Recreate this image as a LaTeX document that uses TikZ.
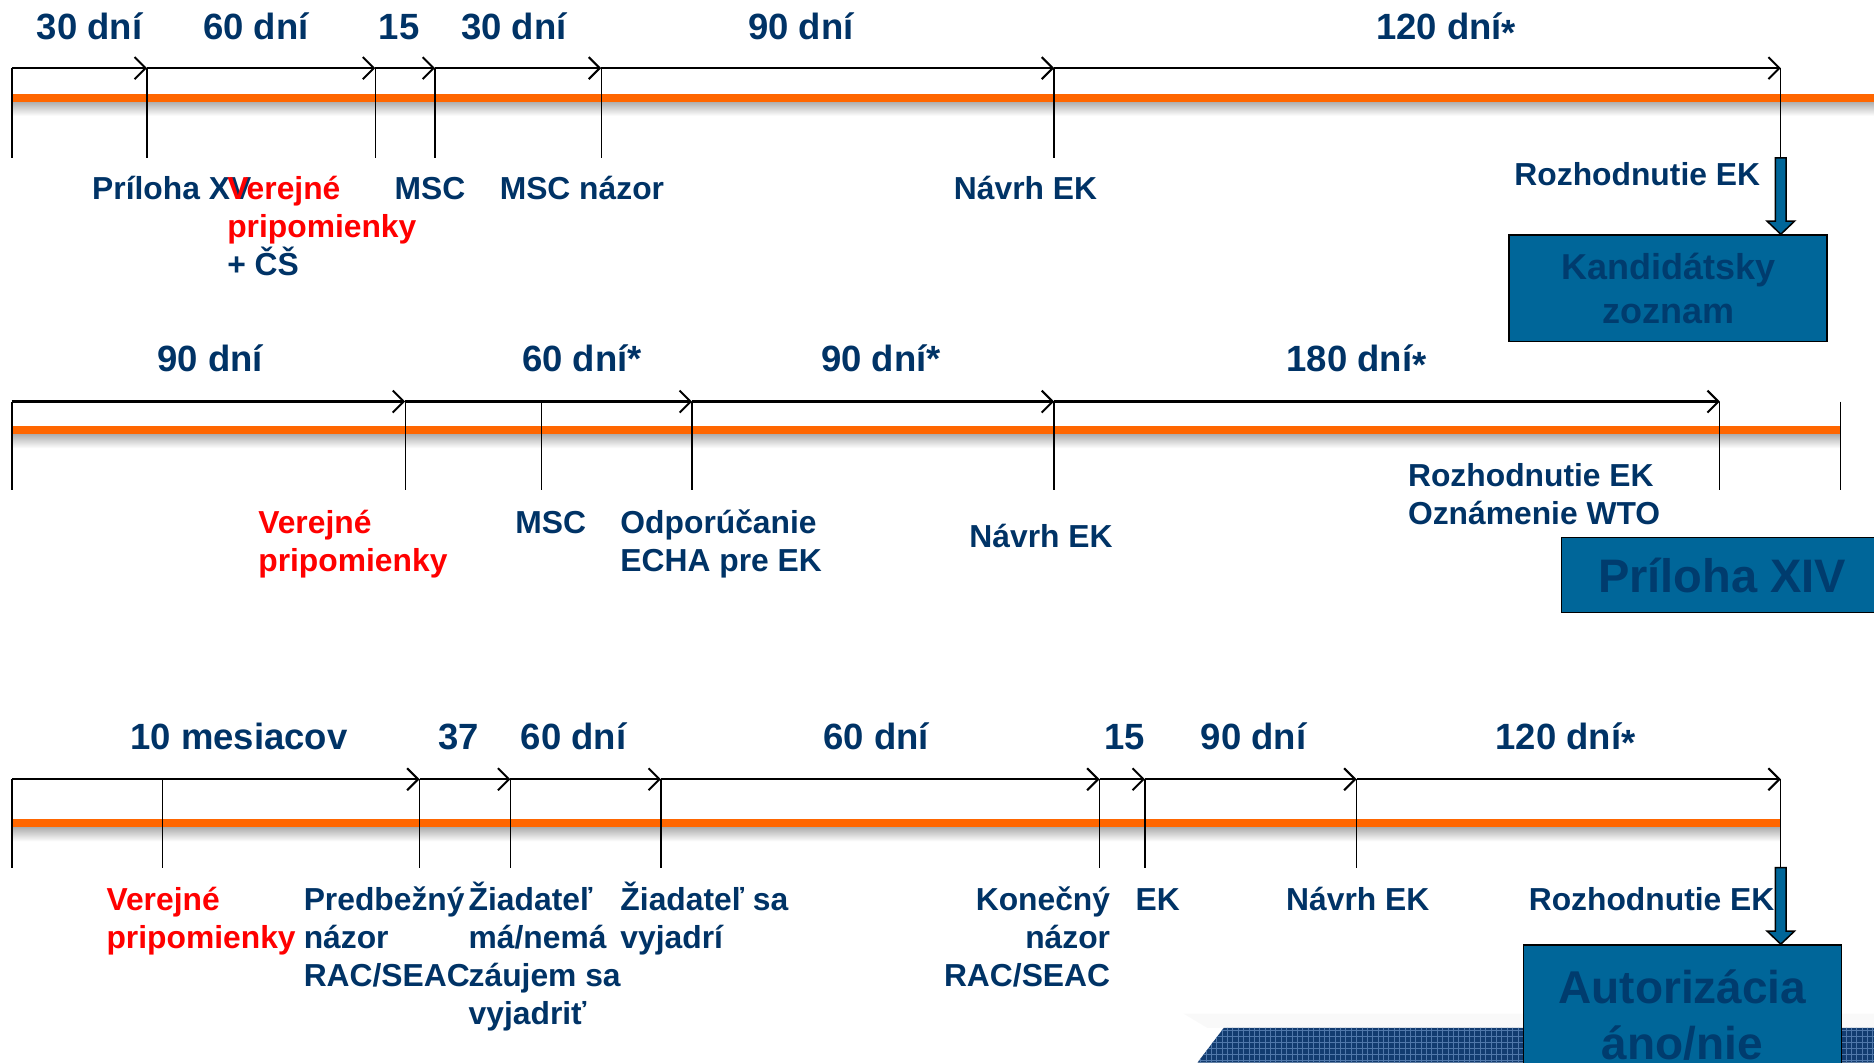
\documentclass[tikz,border=0pt]{standalone}
\usepackage{fontspec}
\setmainfont{Liberation Sans}
\usetikzlibrary{arrows.meta}
\definecolor{navy}{RGB}{0,51,102}
\definecolor{boxblue}{RGB}{0,102,153}
\definecolor{boxtext}{RGB}{0,60,110}
\definecolor{tlorange}{RGB}{255,102,0}
\definecolor{bandblue}{RGB}{18,60,112}
\definecolor{gridblue}{RGB}{80,120,170}
\newcommand\lowstar{\raisebox{-0.32ex}{*}}
\begin{document}
\begin{tikzpicture}[x=1.1952pt,y=-1.1952pt,
  toplbl/.style={font=\fontsize{36.5}{43}\selectfont\bfseries, text=navy, anchor=base, inner sep=0pt},
  lbl/.style={font=\fontsize{31.8}{38}\selectfont\bfseries, text=navy, anchor=base west, inner sep=0pt, align=left},
  redl/.style={lbl, text=red},
  tickline/.style={line width=1.3pt, black},
  spanline/.style={line width=2.2pt, black, -{Straight Barb[length=11pt,width=22pt,line width=2pt]}},
  orangeline/.style={line width=8pt, tlorange},
  bigbox/.style={draw=black, line width=1.5pt, fill=boxblue, text=boxtext, inner sep=0pt, anchor=north west, align=center},
  blockarr/.style={draw=black, line width=1.5pt, fill=boxblue, line join=miter}
]
\useasboundingbox (0,0) rectangle (1568,889);
\clip (0,0) rectangle (1568,889);
\fill[white] (0,0) rectangle (1568,889);

% ---- decorative band bottom right ----
\fill[black, opacity=0.025] (990,848) -- (1568,848) -- (1568,860) -- (1010,860) -- cycle;
\begin{scope}
  \clip (1002,889) -- (1024,860) -- (1568,860) -- (1568,889) -- cycle;
  \fill[bandblue] (990,855) rectangle (1568,889);
  \foreach \gx in {1000,1004.5,...,1568} \draw[gridblue, line width=0.7pt] (\gx,855) -- (\gx,889);
  \foreach \gy in {862,867,...,889} \draw[gridblue, line width=0.7pt] (990,\gy) -- (1568,\gy);
\end{scope}

% ================= ROW 1 =================
\coordinate (o1s) at (10,82);
\coordinate (o1e) at (1580,82);
\shade[top color=black!35, bottom color=white] (10,84) rectangle (1580,97);
\draw[orangeline] (o1s) -- (o1e);
\foreach \x [count=\i] in {10,123,314,364,503,882,1490} {
  \coordinate (r1t\i) at (\x,57);
  \coordinate (r1b\i) at (\x,132);
  \draw[tickline] (r1t\i) -- (r1b\i);
}
\foreach \a/\b in {1/2,2/3,3/4,4/5,5/6,6/7} \draw[spanline] (r1t\a) -- (r1t\b);

\node[toplbl] (d11) at (75,33) {30 dní};
\node[toplbl] (d12) at (214,33) {60 dní};
\node[toplbl] (d13) at (334,33) {15};
\node[toplbl] (d14) at (430,33) {30 dní};
\node[toplbl] (d15) at (670,33) {90 dní};
\node[toplbl] (d16) at (1210,33) {120 dní\lowstar};

\node[lbl] (l11) at (77,167) {Príloha XV};
\node[lbl] (l12) at (190,230.6) {\textcolor{red}{Verejné}\\\textcolor{red}{pripomienky}\\+ ČŠ};
\node[lbl] (l13) at (330,167) {MSC};
\node[lbl] (l14) at (418,167) {MSC názor};
\node[lbl] (l15) at (798,167) {Návrh EK};
\node[lbl] (l16) at (1267,155) {Rozhodnutie EK};

\node[bigbox, minimum width=318pt, minimum height=106.4pt,
      font=\fontsize{36}{44}\selectfont\bfseries] (kz) at (1262,196) {Kandidátsky\\zoznam};
\begin{scope}[shift={(r1b7)}]
  \draw[blockarr] (-4.5,0) -- (4.5,0) -- (4.5,53) -- (11.5,53) -- (0,64) -- (-11.5,53) -- (-4.5,53) -- cycle;
\end{scope}

% ================= ROW 2 =================
\coordinate (o2s) at (10,360);
\coordinate (o2e) at (1540,360);
\shade[top color=black!35, bottom color=white] (10,362) rectangle (1540,375);
\draw[orangeline] (o2s) -- (o2e);
\foreach \x [count=\i] in {10,339,453,579,882,1439,1540} {
  \coordinate (r2t\i) at (\x,336);
  \coordinate (r2b\i) at (\x,410);
  \draw[tickline] (r2t\i) -- (r2b\i);
}
\foreach \a/\b in {1/2,2/4,4/5,5/6} \draw[spanline] (r2t\a) -- (r2t\b);

\node[toplbl] (d21) at (176,311) {90 dní};
\node[toplbl] (d22) at (487,311) {60 dní*};
\node[toplbl] (d23) at (737,311) {90 dní*};
\node[toplbl] (d24) at (1135,311) {180 dní\lowstar};

\node[redl] (l21) at (216,477.8) {Verejné\\pripomienky};
\node[lbl] (l22) at (431,446) {MSC};
\node[lbl] (l23) at (519,477.8) {Odporúčanie\\ECHA pre EK};
\node[lbl] (l24) at (811,458) {Návrh EK};
\node[lbl] (l25) at (1178,438.8) {Rozhodnutie EK\\Oznámenie WTO};

\node[bigbox, minimum width=321pt, minimum height=75.3pt,
      font=\fontsize{47}{56}\selectfont\bfseries] (px) at (1306,449) {Príloha XIV};

% ================= ROW 3 =================
\coordinate (o3s) at (10,689);
\coordinate (o3e) at (1490,689);
\shade[top color=black!35, bottom color=white] (10,691) rectangle (1490,704);
\draw[orangeline] (o3s) -- (o3e);
\foreach \x [count=\i] in {10,136,351,427,553,920,958,1135,1490} {
  \coordinate (r3t\i) at (\x,652);
  \coordinate (r3b\i) at (\x,726);
  \draw[tickline] (r3t\i) -- (r3b\i);
}
\foreach \a/\b in {1/3,3/4,4/5,5/6,6/7,7/8,8/9} \draw[spanline] (r3t\a) -- (r3t\b);

\node[toplbl] (d31) at (200,627) {10 mesiacov};
\node[toplbl] (d32) at (384,627) {37};
\node[toplbl] (d33) at (480,627) {60 dní};
\node[toplbl] (d34) at (733,627) {60 dní};
\node[toplbl] (d35) at (941,627) {15};
\node[toplbl] (d36) at (1049,627) {90 dní};
\node[toplbl] (d37) at (1310,627) {120 dní\lowstar};

\node[redl] (l31) at (89,793.8) {Verejné\\pripomienky};
\node[lbl] (l32) at (254,825.6) {Predbežný\\názor\\RAC/SEAC};
\node[lbl] (l33) at (392,857.4) {Žiadateľ\\má/nemá\\záujem sa\\vyjadriť};
\node[lbl] (l34) at (519,793.8) {Žiadateľ sa\\vyjadrí};
\node[lbl, anchor=base east, align=right] (l35) at (929,825.6) {Konečný\\názor\\RAC/SEAC};
\node[lbl] (l36) at (950,762) {EK};
\node[lbl] (l37) at (1076,762) {Návrh EK};
\node[lbl] (l38) at (1279,762) {Rozhodnutie EK};

\node[bigbox, minimum width=318pt, minimum height=140pt,
      font=\fontsize{46}{56}\selectfont\bfseries] (az) at (1274,790) {Autorizácia\\áno/nie};
\begin{scope}[shift={(r3b9)}]
  \draw[blockarr] (-4.5,0) -- (4.5,0) -- (4.5,53) -- (11.5,53) -- (0,64) -- (-11.5,53) -- (-4.5,53) -- cycle;
\end{scope}
\end{tikzpicture}
\end{document}
